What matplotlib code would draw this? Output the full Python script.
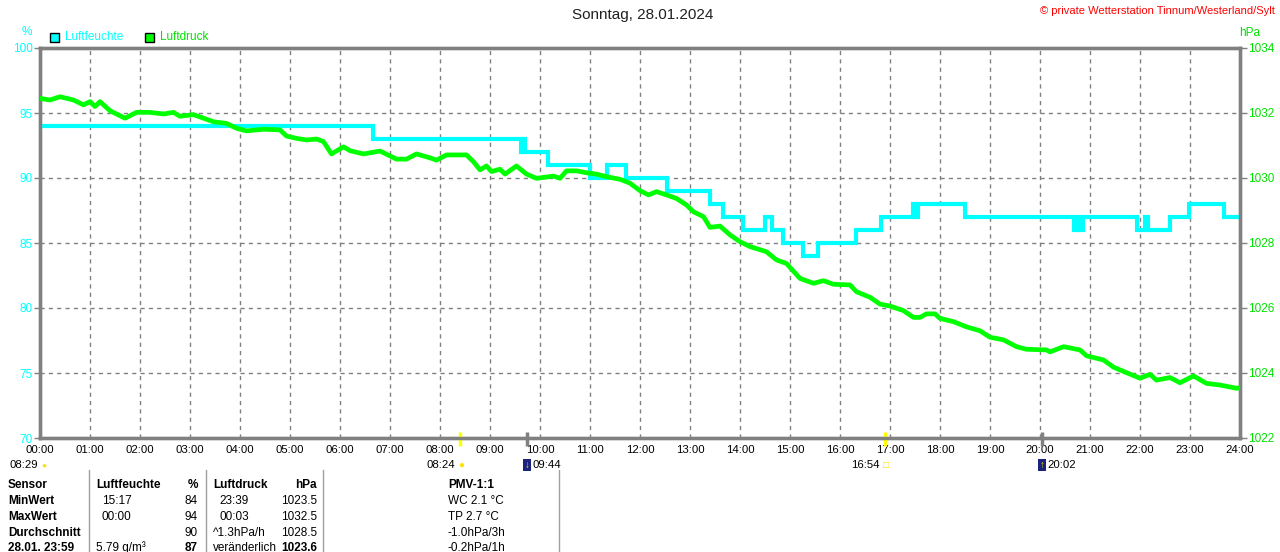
import matplotlib
matplotlib.use("Agg")
import matplotlib.pyplot as plt

# Luftfeuchte (%), Stufenverlauf: Zeitpunkt der Änderung (h) und neuer Wert
hum_t = [0, 6.66, 9.62, 9.66, 9.70, 10.16, 11.00, 11.07, 11.34, 11.38, 11.72,
         12.54, 13.40, 13.66, 14.06, 14.50, 14.64, 14.86, 15.26, 15.56, 16.33,
         16.83, 17.45, 17.50, 17.55, 17.60, 18.50, 20.68, 20.76, 20.80, 20.86,
         20.93, 21.93, 22.10, 22.16, 22.60, 22.97, 23.68, 23.73, 24.0]
hum_v = [94, 93, 92, 93, 92, 91, 90, 90, 91, 91, 90,
         89, 88, 87, 86, 87, 86, 85, 84, 85, 86,
         87, 88, 87, 88, 88, 87, 86, 87, 86, 87,
         87, 86, 87, 86, 87, 88, 87, 87, 87]

# Luftdruck (hPa)
pres_t = [0.0, 0.2, 0.4, 0.67, 0.87, 1.0, 1.1, 1.2, 1.4, 1.7, 1.93, 2.2, 2.47,
          2.67, 2.8, 3.07, 3.27, 3.47, 3.73, 3.93, 4.13, 4.47, 4.8, 4.93, 5.13,
          5.33, 5.53, 5.67, 5.83, 6.07, 6.2, 6.47, 6.8, 7.13, 7.33, 7.53, 7.8,
          7.93, 8.13, 8.53, 8.67, 8.8, 8.93, 9.03, 9.2, 9.3, 9.53, 9.73, 9.93,
          10.27, 10.4, 10.53, 10.73, 10.93, 11.13, 11.33, 11.6, 11.8, 12.0,
          12.17, 12.33, 12.53, 12.73, 12.93, 13.07, 13.27, 13.4, 13.6, 13.8,
          14.0, 14.2, 14.53, 14.73, 14.93, 15.2, 15.47, 15.67, 15.87, 16.2,
          16.33, 16.6, 16.8, 17.0, 17.27, 17.47, 17.6, 17.73, 17.9, 18.0,
          18.27, 18.53, 18.8, 19.0, 19.27, 19.53, 19.73, 20.13, 20.2, 20.47,
          20.8, 20.93, 21.27, 21.47, 21.73, 22.0, 22.2, 22.33, 22.6, 22.8,
          23.07, 23.33, 23.6, 23.93, 24.0]
pres_v = [1032.45, 1032.4, 1032.5, 1032.4, 1032.25, 1032.35, 1032.2, 1032.35,
          1032.07, 1031.84, 1032.02, 1032.02, 1031.97, 1032.02, 1031.9, 1031.95,
          1031.84, 1031.73, 1031.68, 1031.53, 1031.45, 1031.5, 1031.48, 1031.29,
          1031.22, 1031.17, 1031.2, 1031.12, 1030.74, 1030.96, 1030.84, 1030.74,
          1030.83, 1030.58, 1030.58, 1030.74, 1030.62, 1030.55, 1030.71, 1030.71,
          1030.5, 1030.25, 1030.37, 1030.2, 1030.27, 1030.12, 1030.37, 1030.12,
          1029.99, 1030.06, 1029.99, 1030.22, 1030.22, 1030.16, 1030.12, 1030.04,
          1029.96, 1029.84, 1029.61, 1029.48, 1029.58, 1029.48, 1029.37, 1029.17,
          1028.96, 1028.81, 1028.48, 1028.52, 1028.25, 1028.04, 1027.89, 1027.73,
          1027.48, 1027.37, 1026.91, 1026.76, 1026.84, 1026.73, 1026.71, 1026.5,
          1026.33, 1026.12, 1026.06, 1025.92, 1025.71, 1025.71, 1025.82, 1025.82,
          1025.68, 1025.58, 1025.42, 1025.3, 1025.1, 1025.02, 1024.81, 1024.73,
          1024.71, 1024.65, 1024.81, 1024.71, 1024.53, 1024.4, 1024.18, 1024.01,
          1023.84, 1023.96, 1023.78, 1023.86, 1023.7, 1023.91, 1023.68, 1023.63,
          1023.53, 1023.55]

hour_labels = ["%02d:00" % h for h in range(25)]
hum_ticks = [70, 75, 80, 85, 90, 95, 100]
pres_ticks = [1022, 1024, 1026, 1028, 1030, 1032, 1034]

# Sonnen-/Mondereignisse (h, Text)
events = [(8.4, "08:24", "sun"), (9.733, "09:44", "moon"),
          (16.9, "16:54", "sun"), (20.033, "20:02", "moon")]

table_rows = [
    ["Sensor", "Luftfeuchte", "%", "Luftdruck", "hPa", "PMV-1:1"],
    ["MinWert", "15:17", "84", "23:39", "1023.5", "WC 2.1 °C"],
    ["MaxWert", "00:00", "94", "00:03", "1032.5", "TP 2.7 °C"],
    ["Durchschnitt", "", "90", "^1.3hPa/h", "1028.5", "-1.0hPa/3h"],
    ["28.01. 23:59", "5.79 g/m³", "87", "veränderlich", "1023.6", "-0.2hPa/1h"],
]

CYAN = "#00ffff"
GREEN = "#00ff00"
GREEN_TXT = "#00e000"
GRAY = "#808080"
FONT = "Liberation Sans"
plt.rcParams["font.family"] = [FONT, "DejaVu Sans"]

W, H = 1280, 552
fig = plt.figure(figsize=(W / 100, H / 100), dpi=100)
fig.patch.set_facecolor("white")


def fx(x):
    return x / W


def fy(y):
    return 1 - y / H


ax = fig.add_axes([fx(40), fy(438), 1200 / W, 390 / H])
ax2 = ax.twinx()

ax.set_xlim(0, 24)
ax.set_ylim(70, 100)
ax2.set_ylim(1022, 1034)

ax.step(hum_t, hum_v, where="post", color=CYAN, lw=3.0, zorder=3,
        solid_joinstyle="miter")
ax2.plot(pres_t, pres_v, color=GREEN, lw=3.4, zorder=3)

ax.set_xticks(range(25))
ax.set_xticklabels(hour_labels, fontsize=8.2, color="black")
ax.set_yticks(hum_ticks)
ax.set_yticklabels([str(v) for v in hum_ticks], fontsize=8.5, color=CYAN)
ax2.set_yticks(pres_ticks)
ax2.set_yticklabels([str(v) for v in pres_ticks], fontsize=8.5, color=GREEN_TXT)
ax.tick_params(axis="x", length=0, pad=5)
ax.tick_params(axis="y", length=4, width=1, color=GRAY, pad=1)
ax2.tick_params(axis="y", length=5, width=1, color=GRAY, pad=1)

ax.grid(True, color=GRAY, linestyle=(0, (3, 3)), linewidth=1)
ax.set_axisbelow(True)
for a in (ax, ax2):
    for side, sp in a.spines.items():
        sp.set_color(GRAY)
        sp.set_linewidth(2.4)
ax2.grid(False)

# Ereignismarker an der Zeitachse
for t, label, kind in events:
    col = "#ffff00" if kind == "sun" else GRAY
    ax.vlines(t, -8 / 390, 6 / 390, transform=ax.get_xaxis_transform(),
              colors=col, lw=2.5, clip_on=False, zorder=5)

# Titel und Beschriftungen
fig.text(fx(643), fy(15), "Sonntag, 28.01.2024", ha="center", va="center",
         fontsize=11, color="#202020")
fig.text(fx(1275), fy(11), "© private Wetterstation Tinnum/Westerland/Sylt",
         ha="right", va="center", fontsize=8, color="red")
fig.text(fx(27), fy(32), "%", ha="center", va="center", fontsize=8.5, color=CYAN)
fig.text(fx(1250), fy(33), "hPa", ha="center", va="center", fontsize=8.5,
         color=GREEN_TXT)

# Legende
for x0, col, lab in [(50, CYAN, "Luftfeuchte"), (145, GREEN, "Luftdruck")]:
    fig.patches.append(plt.Rectangle((fx(x0), fy(42)), 9 / W, 9 / H,
                                     transform=fig.transFigure,
                                     facecolor=col, edgecolor="black", lw=1))
    fig.text(fx(x0 + 15), fy(37.5), lab, ha="left", va="center", fontsize=8.5,
             color=col if col == CYAN else GREEN_TXT)

# Sonnen-/Mondzeiten
EV_Y = 465
fig.text(fx(10), fy(EV_Y), "08:29", ha="left", va="center", fontsize=8.2)
fig.text(fx(44), fy(EV_Y + 1), "●", ha="center", va="center", fontsize=6,
         color="#ffe000")
for t, label, kind in events:
    xp = 40 + 50 * t
    if kind == "sun":
        fig.text(fx(xp - 5), fy(EV_Y), label, ha="right", va="center",
                 fontsize=8.2)
        fig.text(fx(xp + 1), fy(EV_Y), "●" if t < 12 else "□", ha="center",
                 va="center", fontsize=7, color="#ffe000")
    else:
        fig.patches.append(plt.Rectangle((fx(xp - 4), fy(EV_Y + 6)), 8 / W,
                                         12 / H, transform=fig.transFigure,
                                         facecolor="#1a237e", edgecolor="none"))
        fig.text(fx(xp), fy(EV_Y), "↓" if t < 12 else "↑", ha="center",
                 va="center", fontsize=7, color="#ffe000")
        fig.text(fx(xp + 6), fy(EV_Y), label, ha="left", va="center",
                 fontsize=8.2)

# Tabelle
for xs in [89, 206, 323, 559]:
    fig.add_artist(plt.Line2D([fx(xs), fx(xs)], [fy(470), fy(552)],
                              color="#a0a0a0", lw=1))

row_y = [485, 501, 517, 533, 548]
col_x = [(8, "left"), (96, "left"), (198, "right"), (213, "left"),
         (317, "right"), (448, "left")]
for r, row in enumerate(table_rows):
    for c, txt in enumerate(row):
        x, ha = col_x[c]
        bold = r == 0 or c == 0 or (r == 4 and c in (2, 4))
        if r > 0 and c in (1, 3) and txt[:1].isdigit() and ":" in txt:
            x += 6
        fig.text(fx(x), fy(row_y[r]), txt, ha=ha, va="center", fontsize=8.5,
                 fontweight="bold" if bold else "normal", color="black")

plt.savefig("out.png", dpi=100)
